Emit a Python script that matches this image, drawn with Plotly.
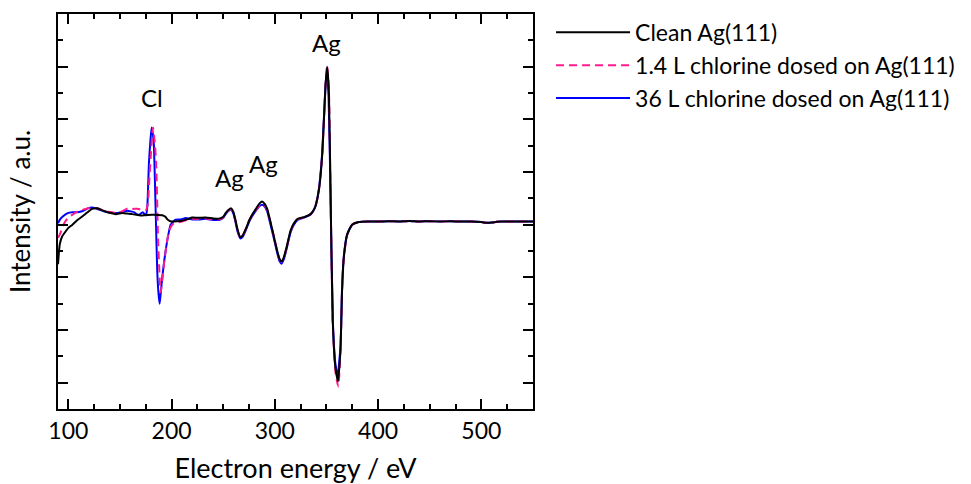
import plotly.graph_objects as go

# ---------------- data (energy in eV, intensity in arbitrary units) ----------------
tail_x = [390, 400, 410, 420, 430, 440, 450, 460, 470, 480, 490, 500, 505, 510, 515, 520, 530, 540, 550]
tail_y = [0.12, 0.12, 0.13, 0.12, 0.14, 0.12, 0.13, 0.12, 0.13, 0.12, 0.12, 0.10, 0.07, 0.08, 0.11, 0.12, 0.12, 0.12, 0.12]

clean_x = [90, 91.7, 94, 97.5, 100, 104, 108, 113.5, 118, 123, 128, 132, 136, 141, 146, 152, 157, 162,
           167, 172, 177, 181, 186, 191, 194, 196, 198, 200, 205, 210, 215, 220, 226, 233, 240, 246,
           250, 252.3, 255, 257.7, 260, 262, 264, 266.5, 269, 272, 275, 278, 282, 285, 287.7, 290,
           292.6, 295.5, 299, 302, 304.5, 306.5, 309, 312, 315, 318.4, 322, 328, 334.5, 337, 339.4,
           342.6, 345.8, 349.1, 350.6, 352.3, 353.9, 356.1, 358.7, 361.2, 363.6, 365.1, 366.8, 370,
           374.8, 381.3] + tail_x
clean_y = [-1.5, -0.75, -0.45, -0.25, -0.12, 0.0, 0.15, 0.31, 0.45, 0.6, 0.62, 0.56, 0.5, 0.44, 0.4,
           0.44, 0.42, 0.4, 0.37, 0.35, 0.37, 0.38, 0.37, 0.36, 0.3, 0.2, 0.14, 0.12, 0.13, 0.15, 0.2,
           0.27, 0.26, 0.27, 0.24, 0.23, 0.3, 0.44, 0.56, 0.62, 0.47, 0.15, -0.2, -0.47, -0.4, -0.15,
           0.15, 0.38, 0.62, 0.8, 0.88, 0.8, 0.6, 0.15, -0.44, -0.95, -1.3, -1.4, -1.2, -0.75, -0.25,
           0.05, 0.22, 0.28, 0.4, 0.52, 0.72, 1.3, 2.6, 5.3, 6.0, 5.1, 1.3, -3.69, -5.44, -5.95, -4.7,
           -2.5, -1.25, -0.38, 0.0, 0.1] + tail_y

low_x = [90, 92, 94.6, 97, 99.4, 104, 109, 115, 122, 128, 134.8, 141, 147.8, 152, 157.5, 162, 167,
         171, 175.2, 177, 178.5, 180.5, 182, 183.5, 185, 187.1, 189.4, 191, 192.6, 195, 197.4, 200.6,
         205, 210, 215, 220, 226, 233, 240, 246, 250, 252.3, 255, 257.7, 260, 262, 264, 266.5, 269,
         272, 275, 278, 282, 285, 287.7, 290, 292.6, 295.5, 299, 302, 304.5, 306.5, 309, 312, 315,
         318.4, 322, 328, 334.5, 337, 339.4, 342.6, 345.8, 349.1, 350.6, 352.3, 353.9, 356.1, 358.7,
         361.4, 363.6, 365.1, 366.8, 370, 374.8, 381.3] + tail_x
low_y = [-0.5, -0.35, -0.06, 0.12, 0.25, 0.38, 0.5, 0.58, 0.65, 0.62, 0.53, 0.48, 0.44, 0.5, 0.62,
         0.6, 0.6, 0.57, 0.56, 0.8, 1.75, 3.0, 3.69, 3.2, 2.38, -0.75, -2.57, -2.1, -1.5, -0.8, -0.25,
         0.0, 0.08, 0.12, 0.18, 0.22, 0.22, 0.24, 0.2, 0.2, 0.28, 0.42, 0.54, 0.58, 0.43, 0.12, -0.22,
         -0.48, -0.4, -0.15, 0.15, 0.36, 0.58, 0.72, 0.78, 0.74, 0.57, 0.13, -0.44, -0.95, -1.3, -1.42,
         -1.22, -0.78, -0.28, 0.03, 0.2, 0.28, 0.4, 0.52, 0.72, 1.3, 2.6, 5.3, 6.05, 5.2, 1.2, -3.8,
         -5.6, -6.15, -4.8, -2.5, -1.25, -0.4, 0.0, 0.1] + tail_y

high_x = [90, 92, 94.6, 99.4, 104, 109.1, 114, 118.8, 123.6, 129, 134.8, 141, 147.8, 152, 157.5, 161,
          163.9, 166, 168.7, 172, 175.2, 176.5, 178.1, 179.5, 180.7, 182, 182.9, 184.6, 186.1, 187.3,
          188.4, 189.5, 191, 194.2, 197, 199.1, 203.9, 209, 213.6, 220, 226.5, 233, 240, 246, 250,
          252.3, 255, 257.7, 260, 262, 264, 266.5, 269, 272, 275, 278, 282, 285, 287.7, 290, 292.6,
          295.5, 299, 302, 304.5, 306.5, 309, 312, 315, 318.4, 322, 328, 334.5, 337, 339.4, 342.6,
          345.8, 349.1, 350.3, 352, 353.9, 356.1, 358.7, 360.8, 363.6, 365.1, 366.8, 370, 374.8,
          381.3] + tail_x
high_y = [0.05, 0.2, 0.31, 0.44, 0.47, 0.47, 0.52, 0.62, 0.65, 0.58, 0.5, 0.46, 0.44, 0.48, 0.53, 0.5,
          0.47, 0.4, 0.38, 0.47, 0.35, 0.7, 2.38, 3.2, 3.69, 3.4, 3.0, 0.5, -1.75, -2.6, -3.0, -2.6,
          -2.0, -1.0, -0.35, 0.0, 0.19, 0.2, 0.25, 0.2, 0.2, 0.22, 0.18, 0.18, 0.26, 0.4, 0.52, 0.56,
          0.4, 0.08, -0.28, -0.52, -0.45, -0.2, 0.1, 0.32, 0.55, 0.7, 0.76, 0.7, 0.5, 0.05, -0.52,
          -1.02, -1.38, -1.48, -1.28, -0.82, -0.32, 0.0, 0.18, 0.27, 0.38, 0.5, 0.7, 1.35, 2.7, 5.3,
          5.8, 4.9, 1.2, -3.6, -5.3, -5.75, -4.6, -2.4, -1.2, -0.38, 0.0, 0.1] + tail_y

series_names = ["Clean Ag(111)", "1.4 L chlorine dosed on Ag(111)", "36 L chlorine dosed on Ag(111)"]

label_text = ["Cl", "Ag", "Ag", "Ag"]
label_x = [181, 256.5, 289.4, 350.3]
label_y = [4.82, 1.78, 2.34, 6.92]

# ---------------- figure ----------------
FONT = "Lato"
fig = go.Figure()

fig.add_trace(go.Scatter(x=high_x, y=high_y, mode="lines", name=series_names[2], legendrank=3,
                         line=dict(color="#0000ff", width=2, shape="spline", smoothing=0.5)))
fig.add_trace(go.Scatter(x=low_x, y=low_y, mode="lines", name=series_names[1], legendrank=2,
                         line=dict(color="#ff1a8c", width=2, dash="8px,5px", shape="spline", smoothing=0.5)))
fig.add_trace(go.Scatter(x=clean_x, y=clean_y, mode="lines", name=series_names[0], legendrank=1,
                         line=dict(color="#000000", width=2, shape="spline", smoothing=0.5)))

for t, xx, yy in zip(label_text, label_x, label_y):
    fig.add_annotation(x=xx, y=yy, text=t, showarrow=False, font=dict(family=FONT, size=24, color="black"))

axis_common = dict(showline=True, linewidth=2, linecolor="black", mirror="ticks",
                   ticks="inside", ticklen=10, tickwidth=2, tickcolor="black",
                   showgrid=False, zeroline=False, automargin=False)

fig.update_xaxes(range=[90, 550], tick0=0, dtick=100,
                 minor=dict(ticks="inside", ticklen=5, tickwidth=2, tickcolor="black", dtick=25, tick0=0, showgrid=False),
                 tickfont=dict(family=FONT, size=23, color="black"),
                 title=dict(text="Electron energy / eV", font=dict(family=FONT, size=27, color="black"), standoff=22),
                 **axis_common)
fig.update_yaxes(range=[-7, 8], tick0=0, dtick=2, showticklabels=False,
                 minor=dict(ticks="inside", ticklen=5, tickwidth=2, tickcolor="black", dtick=1, tick0=0, showgrid=False),
                 title=dict(text="Intensity / a.u.", font=dict(family=FONT, size=26, color="black"), standoff=18),
                 **axis_common)

fig.update_layout(
    width=971, height=484,
    margin=dict(l=58, r=436, t=11, b=75),
    plot_bgcolor="white", paper_bgcolor="white",
    font=dict(family=FONT, color="black"),
    legend=dict(x=1.038, y=1.008, xanchor="left", yanchor="top", itemwidth=74,
                font=dict(family=FONT, size=23, color="black"),
                bgcolor="rgba(0,0,0,0)", tracegroupgap=0),
)

fig.write_html("out.html")
